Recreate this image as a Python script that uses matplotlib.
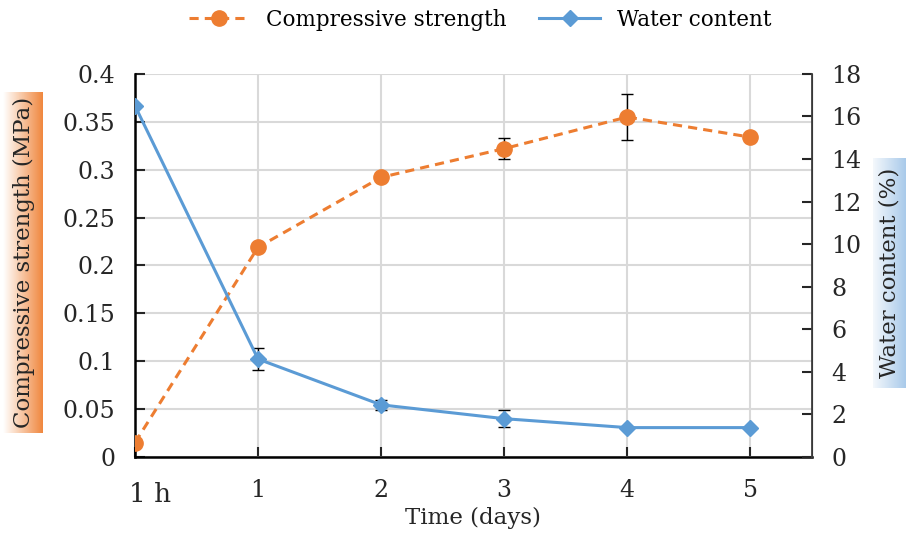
import numpy as np
import matplotlib
matplotlib.use("Agg")
import matplotlib.pyplot as plt
import matplotlib.transforms as mtransforms
from matplotlib.colors import LinearSegmentedColormap

plt.rcParams['font.family'] = ['DejaVu Serif']

# data
x_labels = ["1 h", "1", "2", "3", "4", "5"]
strength = [0.015, 0.219, 0.292, 0.322, 0.355, 0.334]
strength_err = [0, 0, 0, 0.011, 0.024, 0]
water = [16.5, 4.6, 2.45, 1.8, 1.38, 1.38]
water_err = [0, 0.5, 0.25, 0.4, 0, 0]

orange = "#ED7D31"
blue = "#5B9BD5"
x = np.arange(len(x_labels))

fig = plt.figure(figsize=(9.06, 5.38), dpi=100)
ax = fig.add_axes([0.149, 0.1506, 0.747, 0.712])
ax2 = ax.twinx()

# gradient boxes behind the axis labels
def grad_box(rect, c_left, c_right):
    gax = fig.add_axes(rect, zorder=-5)
    cmap = LinearSegmentedColormap.from_list("g", [c_left, c_right])
    gax.imshow(np.linspace(0, 1, 100).reshape(1, -1), aspect="auto", cmap=cmap)
    gax.axis("off")

grad_box([0.0033, 0.195, 0.044, 0.634], "#ffffff", "#F0883F")
grad_box([0.9636, 0.279, 0.0364, 0.427], "#F4F8FC", "#A9CAEA")
fig.text(0.026, 0.513, "Compressive strength (MPa)", rotation=90, ha="center",
         va="center", fontsize=16.5, color="#262626")
fig.text(0.982, 0.492, "Water content (%)", rotation=90, ha="center",
         va="center", fontsize=16.5, color="#262626")

l1 = ax.errorbar(x, strength, yerr=strength_err, color=orange, ls="--", lw=2.2,
                 marker="o", ms=11, ecolor="black", elinewidth=1, capsize=4,
                 dashes=(3, 2), zorder=3)
l2 = ax2.errorbar(x, water, yerr=water_err, color=blue, ls="-", lw=2.2,
                  marker="D", ms=8, ecolor="black", elinewidth=1, capsize=4,
                  zorder=3)

ax.set_xlim(0, 5.5)
ax.set_ylim(0, 0.4)
ax2.set_ylim(0, 18)
ax.set_yticks(np.arange(0, 0.401, 0.05))
ax.set_yticklabels(["0", "0.05", "0.1", "0.15", "0.2", "0.25", "0.3", "0.35", "0.4"])
ax2.set_yticks(np.arange(0, 19, 2))
ax.set_xticks(x)
ax.set_xticklabels(x_labels)

ax.grid(True, color="#d9d9d9", lw=1.5)
ax.set_axisbelow(True)
for a in (ax, ax2):
    a.spines["top"].set_visible(False)
    a.tick_params(direction="in", length=7, width=1.5, labelsize=17,
                  colors="#262626", pad=14)
ax.spines["left"].set_linewidth(1.8)
ax.spines["bottom"].set_linewidth(1.8)
ax2.spines["right"].set_linewidth(1.3)
ax2.spines["right"].set_color("#404040")
ax2.spines["left"].set_visible(False)
ax2.spines["bottom"].set_visible(False)
ax.tick_params(axis="x", pad=16, length=7, labelsize=17)
first = ax.get_xticklabels()[0]
first.set_fontsize(19)
first.set_transform(first.get_transform() +
                    mtransforms.ScaledTranslation(15 / 100, -3 / 100, fig.dpi_scale_trans))
ax.set_xlabel("Time (days)", fontsize=16.5, color="#262626", labelpad=0)

fig.legend([l1[0], l2[0]], ["Compressive strength", "Water content"],
           loc="upper center", bbox_to_anchor=(0.53, 1.02), ncol=2,
           frameon=False, fontsize=15.5, handlelength=2.8, columnspacing=1.5)

fig.savefig("out.png", dpi=100)
